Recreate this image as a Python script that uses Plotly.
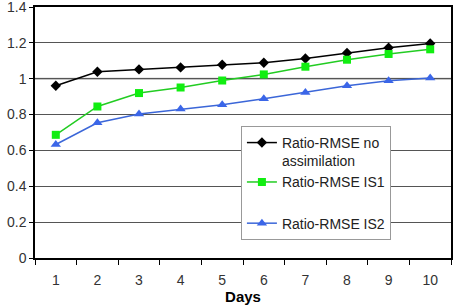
import plotly.graph_objects as go

days = ["1", "2", "3", "4", "5", "6", "7", "8", "9", "10"]
no_assim = [0.961, 1.039, 1.052, 1.063, 1.078, 1.089, 1.113, 1.144, 1.173, 1.196]
is1 = [0.687, 0.845, 0.920, 0.951, 0.990, 1.024, 1.067, 1.106, 1.138, 1.164]
is2 = [0.633, 0.754, 0.803, 0.831, 0.855, 0.888, 0.923, 0.961, 0.989, 1.004]
y_ticks = [0, 0.2, 0.4, 0.6, 0.8, 1, 1.2, 1.4]
y_labels = ["0", "0.2", "0.4", "0.6", "0.8", "1", "1.2", "1.4"]

font = "Liberation Sans, Arial, sans-serif"

fig = go.Figure()
fig.add_trace(go.Scatter(x=days, y=no_assim, mode="lines+markers",
                         name="Ratio-RMSE no<br>assimilation", legendgroup="ab",
                         line=dict(color="black", width=1.5),
                         marker=dict(symbol="diamond", size=8, color="black")))
fig.add_trace(go.Scatter(x=days, y=is1, mode="lines+markers",
                         name="Ratio-RMSE IS1", legendgroup="ab",
                         line=dict(color="#22cc22", width=1.5),
                         marker=dict(symbol="square", size=8, color="#11ee11")))
fig.add_trace(go.Scatter(x=days, y=is2, mode="lines+markers",
                         name="Ratio-RMSE IS2", legendgroup="c",
                         line=dict(color="#3b66d8", width=1.5),
                         marker=dict(symbol="triangle-up", size=9, color="#3b66e8")))

fig.add_shape(type="line", xref="paper", x0=0, x1=1, yref="y", y0=1, y1=1,
              line=dict(color="#b0b0b0", width=2), layer="below")

fig.update_layout(
    width=459, height=308,
    margin=dict(l=35, r=8, t=7, b=50, autoexpand=False),
    paper_bgcolor="white", plot_bgcolor="white",
    font=dict(family=font, size=14, color="#333"),
    showlegend=True,
    legend=dict(x=0.495, y=0.526, xanchor="left", yanchor="top",
                bgcolor="white", bordercolor="#999", borderwidth=1,
                tracegroupgap=20, valign="top", font=dict(size=14, color="#222"),
                traceorder="grouped"),
    xaxis=dict(type="category", range=[-0.5, 9.5], tickson="boundaries",
               ticks="outside", ticklen=5, tickcolor="black",
               showline=True, linecolor="black", linewidth=1.5, mirror=True,
               showgrid=False, tickfont=dict(size=14, color="#333"),
               ticklabelstandoff=8, automargin=False,
               title=dict(text="<b>Days</b>", font=dict(size=15, color="black"), standoff=4)),
    yaxis=dict(range=[0, 1.4], tickvals=y_ticks, ticktext=y_labels,
               ticks="outside", ticklen=4, tickcolor="black",
               showline=True, linecolor="black", linewidth=1.5, mirror=True,
               showgrid=True, gridcolor="#555", gridwidth=1, zeroline=False,
               automargin=False, ticklabeloverflow="allow",
               tickfont=dict(size=14, color="#333")),
)

fig.write_html("out.html")
